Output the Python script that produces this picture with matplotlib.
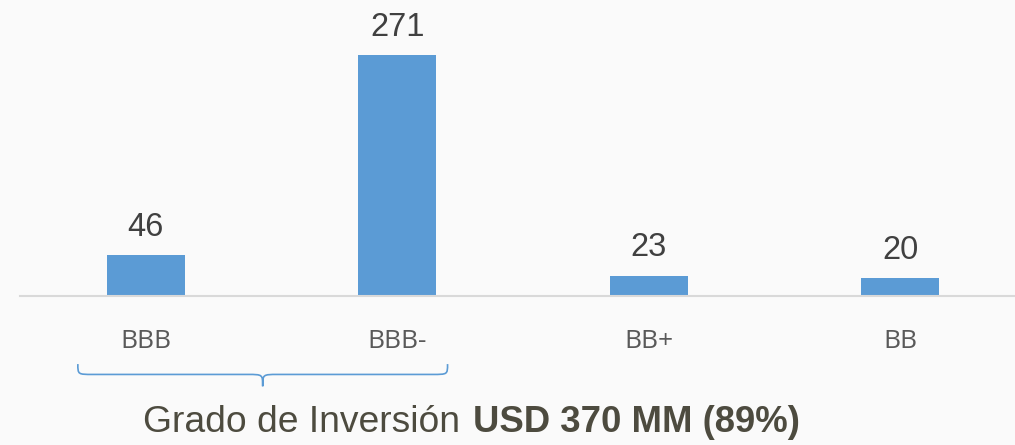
import matplotlib.pyplot as plt
from matplotlib.path import Path
from matplotlib.patches import PathPatch
import matplotlib.transforms as mtransforms

# data
categorias = ["BBB", "BBB-", "BB+", "BB"]
montos = [46, 271, 23, 20]

azul = "#5b9bd5"
fondo = "#fafafa"

fig = plt.figure(figsize=(10.15, 4.45), dpi=100, facecolor=fondo)
ax = fig.add_axes([20 / 1015, 1 - 296 / 445, 1006 / 1015, 296 / 445])
ax.set_facecolor(fondo)

x = range(len(categorias))
barras = ax.bar(x, montos, width=0.31, color=azul)
ax.set_xlim(-0.5, 3.5)
ax.set_ylim(0, 333)

for b, v in zip(barras, montos):
    ax.annotate(str(v), (b.get_x() + b.get_width() / 2, v),
                xytext=(0, 9), textcoords="offset points",
                ha="center", va="bottom", fontsize=23.5,
                family="Liberation Sans", color="#404040")

ax.set_xticks(list(x))
ax.set_xticklabels(categorias, fontsize=19, family="Open Sans", color="#595959")
ax.tick_params(axis="x", length=0, pad=24)
ax.set_yticks([])
for s in ["top", "left", "right"]:
    ax.spines[s].set_visible(False)
ax.spines["bottom"].set_color("#d9d9d9")
ax.spines["bottom"].set_linewidth(1.5)

# llave bajo BBB y BBB-
x0, x1 = 0 - 0.27, 1 + 0.2
xm = (x0 + x1) / 2
y_top, y_mid, y_tip = -0.23, -0.265, -0.305
r = 0.06
verts = [
    (x0, y_top), (x0, y_mid), (x0, y_mid), (x0 + r, y_mid),
    (xm - r, y_mid),
    (xm, y_mid), (xm, y_mid), (xm, y_tip),
    (xm, y_mid), (xm, y_mid), (xm + r, y_mid),
    (x1 - r, y_mid),
    (x1, y_mid), (x1, y_mid), (x1, y_top),
]
codes = [Path.MOVETO, Path.CURVE4, Path.CURVE4, Path.CURVE4,
         Path.LINETO,
         Path.CURVE4, Path.CURVE4, Path.CURVE4,
         Path.CURVE4, Path.CURVE4, Path.CURVE4,
         Path.LINETO,
         Path.CURVE4, Path.CURVE4, Path.CURVE4]
trans = mtransforms.blended_transform_factory(ax.transData, ax.transAxes)
llave = PathPatch(Path(verts, codes), facecolor="none", edgecolor=azul,
                  lw=1.2, transform=trans, clip_on=False)
ax.add_patch(llave)

color_txt = "#4d4b3f"
fig.text(470 / 1015, 1 - 423 / 445, "Grado de Inversión ", ha="right", va="center",
         fontsize=26.8, family="Liberation Sans", color=color_txt)
fig.text(473 / 1015, 1 - 423 / 445, "USD 370 MM (89%)", ha="left", va="center",
         fontsize=26.3, family="Liberation Sans", weight="bold", color=color_txt)

fig.savefig("out.png", dpi=100, facecolor=fondo)
